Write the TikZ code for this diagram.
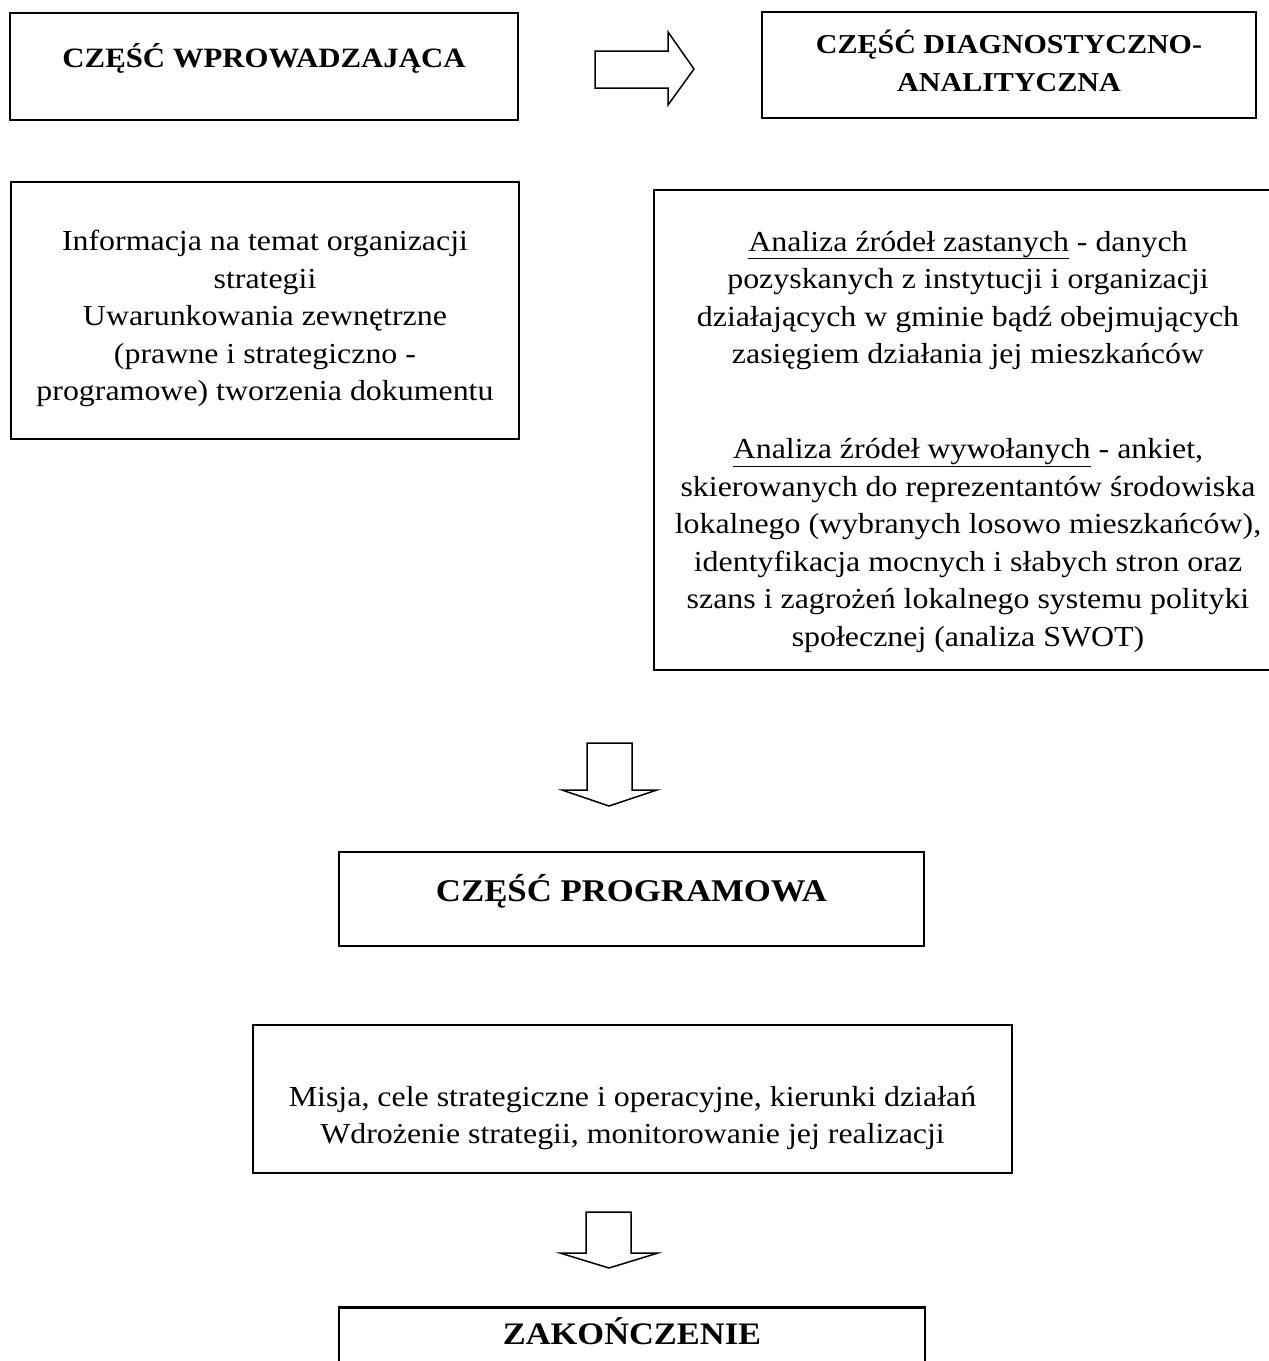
\documentclass[tikz,border=0pt]{standalone}
\usepackage{fontspec}
\setmainfont[FakeStretch=1.1]{Liberation Serif}
\begin{document}
\begin{tikzpicture}[x=1pt,y=-1pt,
  box/.style={draw,line width=2.6pt,rectangle,inner sep=0pt},
  body/.style={align=center,inner sep=0pt,font=\fontsize{29}{37.5}\selectfont},
  head/.style={align=center,inner sep=0pt,font=\fontsize{28}{37.5}\selectfont\bfseries},
  bighead/.style={head,font=\fontsize{31.6}{38}\selectfont\bfseries},
  blockarrow/.style={draw,line width=1.5pt,fill=white,line join=miter}]
\useasboundingbox (0,0) rectangle (1269,1361);
% boxes
\node[box,minimum width=508pt,minimum height=107pt] (wprow) at (264,66.5) {};
\node[box,minimum width=494pt,minimum height=106pt] (diag) at (1009,65) {};
\node[box,minimum width=508pt,minimum height=257pt] (info) at (265,310.5) {};
\node[box,minimum width=628pt,minimum height=480pt] (anal) at (968,430) {};
\node[box,minimum width=585pt,minimum height=94pt] (prog) at (631.5,899) {};
\node[box,minimum width=759pt,minimum height=148pt] (misja) at (632.5,1099) {};
\node[box,minimum width=586pt,minimum height=100pt,anchor=north] (zak) at (632,1306) {};
% texts
\node[head] (wprowtxt) at ([yshift=8pt]wprow.center) {CZĘŚĆ WPROWADZAJĄCA};
\node[head,font=\fontsize{27.3}{37.5}\selectfont\bfseries] (diagtxt) at ([yshift=4pt]diag.center) {CZĘŚĆ DIAGNOSTYCZNO-\\ANALITYCZNA};
\node[body] (infotxt) at ([yshift=-8pt]info.center) {Informacja na temat organizacji\\strategii\\Uwarunkowania zewnętrzne\\(prawne i strategiczno -\\programowe) tworzenia dokumentu};
\node[body] (analtxt) at ([yshift=-11.5pt]anal.center) {\underline{Analiza źródeł zastanych} - danych\\pozyskanych z instytucji i organizacji\\działających w gminie bądź obejmujących\\zasięgiem działania jej mieszkańców\\[57.5pt]\underline{Analiza źródeł wywołanych} - ankiet,\\skierowanych do reprezentantów środowiska\\lokalnego (wybranych losowo mieszkańców),\\identyfikacja mocnych i słabych stron oraz\\szans i zagrożeń lokalnego systemu polityki\\społecznej (analiza SWOT)};
\node[bighead] (progtxt) at ([yshift=8pt]prog.center) {CZĘŚĆ PROGRAMOWA};
\node[body] (misjatxt) at ([yshift=-19pt]misja.center) {Misja, cele strategiczne i operacyjne, kierunki działań\\Wdrożenie strategii, monitorowanie jej realizacji};
\node[bighead,font=\fontsize{31.3}{38}\selectfont\bfseries] (zaktxt) at ([yshift=-25pt]zak.north) {ZAKOŃCZENIE};
% right block arrow
\draw[blockarrow] (595,51) -- (668,51) -- (668,32) -- (694,69) -- (668,105) -- (668,88) -- (595,88) -- cycle;
% down block arrows
\draw[blockarrow] (587,743) -- (632,743) -- (632,790) -- (657,790) -- (609,806) -- (562,790) -- (587,790) -- cycle;
\draw[blockarrow] (586,1212) -- (631,1212) -- (631,1253) -- (658,1253) -- (609,1268) -- (560,1253) -- (586,1253) -- cycle;
\end{tikzpicture}
\end{document}
